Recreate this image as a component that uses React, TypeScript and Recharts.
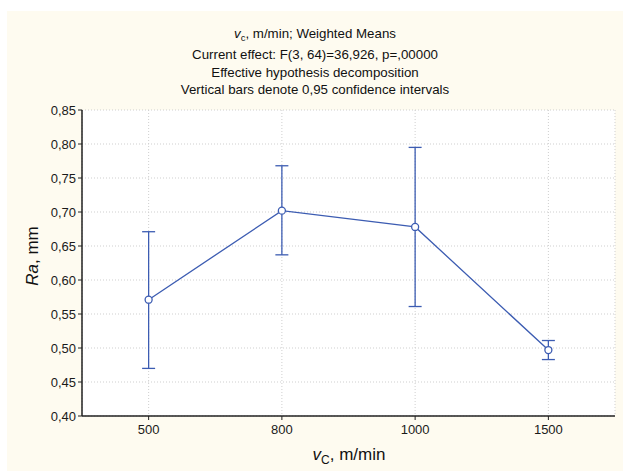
import React from 'react';
import { ComposedChart, Line, XAxis, YAxis, CartesianGrid, ErrorBar } from 'recharts';

const speeds = ['500', '800', '1000', '1500'];
const means = [0.571, 0.702, 0.678, 0.497];
const lower = [0.470, 0.637, 0.561, 0.483];
const upper = [0.671, 0.768, 0.795, 0.511];
const yTicks = [0.4, 0.45, 0.5, 0.55, 0.6, 0.65, 0.7, 0.75, 0.8, 0.85];

const BLUE = '#3c5cb2';
const FONT = '"Liberation Sans", Arial, sans-serif';

const data = speeds.map((s, i) => ({
  vc: s,
  ra: means[i],
  ci: [means[i] - lower[i], upper[i] - means[i]],
}));

const fmt = (v: number) => v.toFixed(2).replace('.', ',');

export default function App() {
  return (
    <div style={{ position: 'absolute', left: 0, top: 0, width: 623, height: 471, background: '#fff', fontFamily: FONT }}>
      <div style={{ position: 'absolute', left: 7, top: 11, right: 0, bottom: 0, background: '#fefbf0' }} />
      <div style={{ position: 'absolute', left: 82, top: 110, width: 533, height: 306, background: '#fff' }} />
      <div style={{ position: 'absolute', left: 0, top: 0 }}>
        <ComposedChart width={623} height={471} data={data} margin={{ top: 110, right: 8, bottom: 0, left: 0 }}>
          <CartesianGrid stroke="#cfcfcf" strokeDasharray="1 2" />
          <XAxis
            dataKey="vc"
            scale="band"
            tickSize={4}
            tickMargin={5}
            height={55}
            stroke="#222"
            tick={{ fill: '#1a1a1a', fontSize: 13, fontFamily: FONT }}
            axisLine={{ stroke: '#222', strokeWidth: 1.5 }}
          />
          <XAxis
            xAxisId="top"
            dataKey="vc"
            scale="band"
            orientation="top"
            height={0}
            tick={false}
            tickLine={false}
            axisLine={{ stroke: '#222', strokeWidth: 1.5 }}
          />
          <YAxis
            domain={[0.4, 0.85]}
            ticks={yTicks}
            tickFormatter={fmt}
            width={82}
            tickSize={4}
            stroke="#222"
            tick={{ fill: '#1a1a1a', fontSize: 13, fontFamily: FONT }}
            axisLine={{ stroke: '#222', strokeWidth: 1.5 }}
          />
          <YAxis
            yAxisId="right"
            orientation="right"
            domain={[0.4, 0.85]}
            ticks={yTicks}
            width={0}
            mirror
            tickSize={4}
            tick={false}
            stroke="#222"
            axisLine={{ stroke: '#222', strokeWidth: 1.5 }}
          />
          <Line
            dataKey="ra"
            stroke={BLUE}
            strokeWidth={1.3}
            dot={{ r: 3.5, fill: '#fff', stroke: BLUE, strokeWidth: 1.3 }}
            isAnimationActive={false}
          >
            <ErrorBar dataKey="ci" width={6.5} stroke={BLUE} strokeWidth={1.3} direction="y" />
          </Line>
        </ComposedChart>
      </div>
      <svg width={623} height={471} style={{ position: 'absolute', left: 0, top: 0, pointerEvents: 'none' }}>
        <g fontFamily={FONT} fill="#111" textAnchor="middle" fontSize={13.3}>
          <text x={315} y={38}>
            <tspan fontStyle="italic">v</tspan>
            <tspan fontSize={9.5} dy={3}>c</tspan>
            <tspan dy={-3}>, m/min; Weighted Means</tspan>
          </text>
          <text x={315} y={59}>Current effect: F(3, 64)=36,926, p=,00000</text>
          <text x={315} y={77}>Effective hypothesis decomposition</text>
          <text x={315} y={94}>Vertical bars denote 0,95 confidence intervals</text>
          <text x={349} y={460} fontSize={17}>
            <tspan fontStyle="italic">v</tspan>
            <tspan fontSize={12} dy={4}>C</tspan>
            <tspan dy={-4}>, m/min</tspan>
          </text>
          <text x={38} y={256} fontSize={17} transform="rotate(-90 38 256)">
            <tspan fontStyle="italic">Ra</tspan>
            <tspan>, mm</tspan>
          </text>
        </g>
      </svg>
    </div>
  );
}
